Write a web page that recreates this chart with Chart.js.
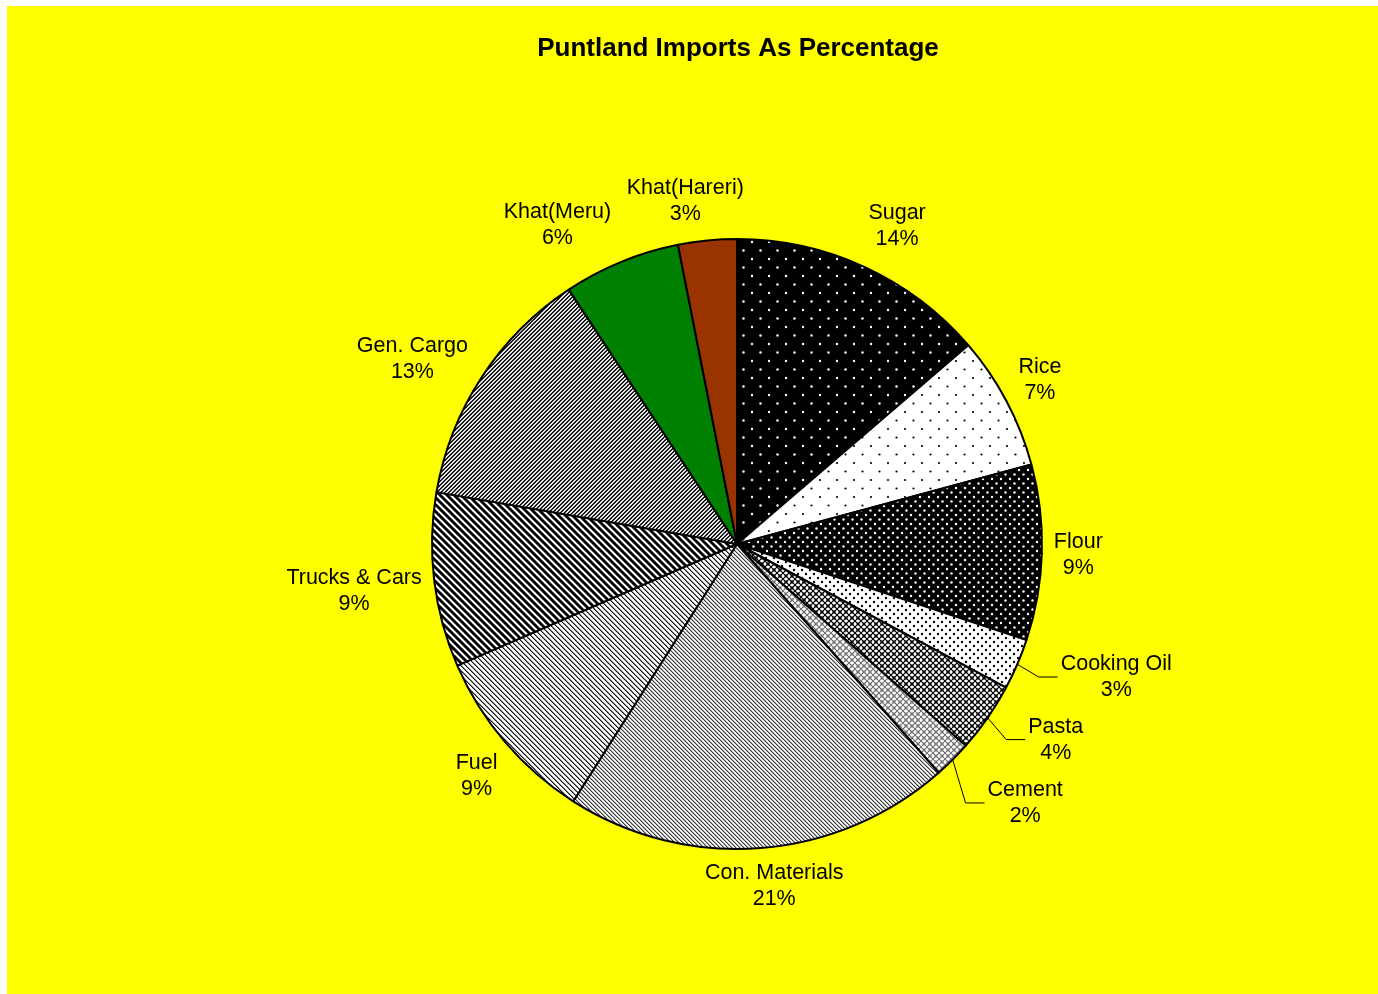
<!DOCTYPE html>
<html>
<head>
<meta charset="utf-8">
<script src="https://cdn.jsdelivr.net/npm/chart.js@4/dist/chart.umd.min.js"></script>
<style>
  html, body { margin: 0; padding: 0; background: #ffffff; }
  #wrap { width: 1378px; height: 994px; }
</style>
</head>
<body>
<div id="wrap"><canvas id="chart" width="1378" height="994"></canvas></div>
<script>
// Import categories, clockwise from twelve o'clock
const categories = [
  'Sugar', 'Rice', 'Flour', 'Cooking Oil', 'Pasta', 'Cement',
  'Con. Materials', 'Fuel', 'Trucks & Cars', 'Gen. Cargo', 'Khat(Meru)', 'Khat(Hareri)'
];
// Share of total imports (percent)
const shares = [13.7, 7.1, 9.3, 2.7, 3.7, 2.0, 20.52, 9.45, 9.25, 12.98, 6.2, 3.1];

const chartTitle = 'Puntland Imports As Percentage';
const FONT = '"Liberation Sans", Arial, Helvetica, sans-serif';

// ---- fill patterns -------------------------------------------------------
function tile(w, h, paint) {
  const c = document.createElement('canvas');
  c.width = w; c.height = h;
  const g = c.getContext('2d');
  paint(g, w, h);
  return document.createElement('canvas').getContext('2d').createPattern(c, 'repeat');
}
function dots(bg, fg, size, pts, rad) {
  return tile(size, size, (g, w, h) => {
    g.fillStyle = bg; g.fillRect(0, 0, w, h);
    g.fillStyle = fg;
    pts.forEach(([x, y]) => { g.beginPath(); g.arc(x, y, rad, 0, Math.PI * 2); g.fill(); });
  });
}
// crisp 45-degree stripes: one grey level per diagonal step
function stripes(levels, down) {
  const p = levels.length;
  return tile(p, p, (g, w, h) => {
    const img = g.createImageData(w, h);
    for (let yy = 0; yy < h; yy++) {
      for (let xx = 0; xx < w; xx++) {
        const k = down ? ((xx - yy) % p + p) % p : (xx + yy) % p;
        const v = levels[k], o = (yy * w + xx) * 4;
        img.data[o] = img.data[o + 1] = img.data[o + 2] = v;
        img.data[o + 3] = 255;
      }
    }
    g.putImageData(img, 0, 0);
  });
}
function lattice(bg, lineColor, spot, size) {
  return tile(size, size, (g, w, h) => {
    g.fillStyle = bg; g.fillRect(0, 0, w, h);
    g.strokeStyle = lineColor; g.lineWidth = 1.2;
    for (let k = -1; k <= 1; k++) {
      g.beginPath(); g.moveTo(k * w, 0); g.lineTo(k * w + w, h); g.stroke();
      g.beginPath(); g.moveTo(k * w, h); g.lineTo(k * w + w, 0); g.stroke();
    }
    g.fillStyle = spot;
    g.fillRect(w / 2 - 1, 0, 2, 1.5);
    g.fillRect(w / 2 - 1, h - 1.5, 2, 1.5);
    g.fillRect(0, h / 2 - 1, 1.5, 2);
    g.fillRect(w - 1.5, h / 2 - 1, 1.5, 2);
  });
}

const fills = [
  dots('#000000', '#ffffff', 17, [[4, 4], [12.5, 12.5]], 1.2),      // Sugar
  dots('#ffffff', '#000000', 17, [[4, 4], [12.5, 12.5]], 1.1),      // Rice
  dots('#000000', '#ffffff', 9, [[2, 2], [6.5, 6.5]], 1.2),         // Flour
  dots('#ffffff', '#000000', 8, [[2, 2], [6, 6]], 1.2),             // Cooking Oil
  lattice('#8c8c8c', '#000000', '#ffffff', 6),                     // Pasta
  lattice('#d8d8d8', '#707070', '#ffffff', 6),                     // Cement
  stripes([60, 170, 255, 225], true),                              // Con. Materials
  stripes([20, 130, 255, 255, 235], true),                         // Fuel
  stripes([0, 0, 0, 128, 255, 255, 128], true),                    // Trucks & Cars
  stripes([0, 60, 255, 200], false),                               // Gen. Cargo
  '#008000',                                                       // Khat(Meru)
  '#993300'                                                        // Khat(Hareri)
];

// Label placement tweaks beyond the plain outside-end position
const labelShift = [[15, -4], [2, -2], [-2, 1], [35, -3], [34, -1], [36, 15],
                    [7, -2], [-2, 8], [1, 6], [-11, 4], [-38, 0], [-15, 0]];
const withLeader = [false, false, false, true, true, true, false, false, false, false, false, false];

// ---- plugins --------------------------------------------------------------
const background = {
  id: 'background',
  beforeDraw(chart) {
    const { ctx, width, height } = chart;
    ctx.save();
    ctx.fillStyle = '#ffffff'; ctx.fillRect(0, 0, width, height);
    ctx.fillStyle = '#ffff00'; ctx.fillRect(7, 6, width - 7, height - 6);
    ctx.fillStyle = '#000000';
    ctx.font = 'bold 26px ' + FONT;
    ctx.textAlign = 'center'; ctx.textBaseline = 'middle';
    ctx.fillText(chartTitle, 738, 49);
    ctx.restore();
  }
};

const sliceLabels = {
  id: 'sliceLabels',
  afterDatasetsDraw(chart) {
    const { ctx } = chart;
    const meta = chart.getDatasetMeta(0);
    const data = chart.data.datasets[0].data;
    const total = data.reduce((a, b) => a + b, 0);
    ctx.save();
    ctx.font = '21.5px ' + FONT;
    ctx.fillStyle = '#000000';
    ctx.textAlign = 'center'; ctx.textBaseline = 'middle';
    meta.data.forEach((arc, i) => {
      const { x, y, startAngle, endAngle, outerRadius } = arc.getProps(['x', 'y', 'startAngle', 'endAngle', 'outerRadius'], true);
      const mid = (startAngle + endAngle) / 2;
      const sx = Math.cos(mid), sy = Math.sin(mid);
      const lines = [chart.data.labels[i], Math.round(data[i] / total * 100) + '%'];
      const w = Math.max(...lines.map(t => ctx.measureText(t).width));
      const halfH = 26;
      const ax = x + (outerRadius + 14) * sx;
      const ay = y + (outerRadius + 14) * sy;
      const cx = ax + (w / 2) * sx + labelShift[i][0];
      const cy = ay + halfH * sy + labelShift[i][1];
      ctx.fillText(lines[0], cx, cy - 13);
      ctx.fillText(lines[1], cx, cy + 13);
      if (withLeader[i]) {
        const left = cx - ctx.measureText(lines[0]).width / 2;
        ctx.strokeStyle = '#000000'; ctx.lineWidth = 1;
        ctx.beginPath();
        ctx.moveTo(x + outerRadius * sx, y + outerRadius * sy);
        ctx.lineTo(left - 22, cy);
        ctx.lineTo(left - 3, cy);
        ctx.stroke();
      }
    });
    ctx.restore();
  }
};

new Chart(document.getElementById('chart'), {
  type: 'pie',
  data: {
    labels: categories,
    datasets: [{
      data: shares,
      backgroundColor: fills,
      borderColor: '#000000',
      borderWidth: 2,
      radius: 305
    }]
  },
  options: {
    responsive: false,
    devicePixelRatio: 1,
    animation: false,
    layout: { padding: { left: 200, right: 104, top: 150, bottom: 56 } },
    plugins: {
      legend: { display: false },
      title: { display: false },
      tooltip: { enabled: false }
    }
  },
  plugins: [background, sliceLabels]
});
</script>
</body>
</html>
